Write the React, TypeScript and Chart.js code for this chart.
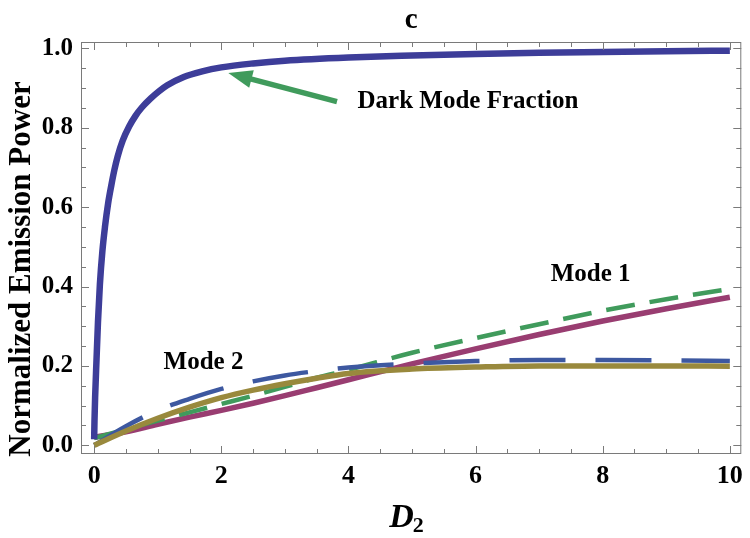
import React, { useEffect, useRef } from "react";
import { Chart, registerables } from "chart.js";

Chart.register(...registerables);

// ---------------- data ----------------
const xGrid = [0, 0.5, 1, 1.5, 2, 2.5, 3, 3.5, 4, 5, 6, 7, 8, 9, 10];

const darkX = [0, 0.005, 0.015, 0.037, 0.06, 0.09, 0.13, 0.17, 0.22, 0.27, 0.32, 0.37, 0.45, 0.55, 0.65, 0.75, 0.89, 1.02, 1.15, 1.41, 1.7, 2, 2.5, 3, 4, 5, 6, 7, 8, 9, 10];
const darkY = [0.015, 0.06, 0.12, 0.215, 0.31, 0.405, 0.49, 0.55, 0.61, 0.655, 0.695, 0.728, 0.768, 0.803, 0.83, 0.851, 0.874, 0.892, 0.907, 0.928, 0.942, 0.952, 0.962, 0.969, 0.977, 0.982, 0.986, 0.989, 0.991, 0.993, 0.994];

const mode1Y = [0.02, 0.034, 0.053, 0.071, 0.088, 0.106, 0.125, 0.145, 0.165, 0.205, 0.243, 0.279, 0.313, 0.344, 0.373];
const mode1DashY = [0.018, 0.04, 0.062, 0.083, 0.104, 0.125, 0.147, 0.17, 0.19, 0.233, 0.27, 0.305, 0.339, 0.368, 0.394];
const mode2DashY = [0, 0.048, 0.088, 0.117, 0.142, 0.161, 0.176, 0.187, 0.196, 0.206, 0.212, 0.215, 0.215, 0.214, 0.212];
const mode2Y = [0, 0.036, 0.068, 0.096, 0.12, 0.139, 0.155, 0.169, 0.181, 0.192, 0.197, 0.2, 0.2, 0.2, 0.199];

const xTickValues = [0, 2, 4, 6, 8, 10];
const yTickValues = [0, 0.2, 0.4, 0.6, 0.8, 1.0];
const xRange = [-0.207, 10.18];
const yRange = [-0.022, 1.016];

const titleText = "c";
const yTitle = "Normalized Emission Power";
const xTitleMain = "D";
const xTitleSub = "2";

const labels = [
  { text: "Dark Mode Fraction", x: 5.88, y: 0.866 },
  { text: "Mode 1", x: 7.81, y: 0.429 },
  { text: "Mode 2", x: 1.72, y: 0.208 },
];
const arrowFrom = { x: 3.82, y: 0.866 };
const arrowTo = { x: 2.11, y: 0.938 };

// ---------------- styles ----------------
const SERIF = '"Liberation Serif", "Times New Roman", serif';
const C_DARK = "rgb(61,61,153)";
const C_MODE1 = "rgb(153,61,113)";
const C_GREEN = "rgb(64,155,92)";
const C_BLUE = "rgb(61,88,160)";
const C_OLIVE = "rgb(153,137,61)";
const FRAME = "#7a7a7a";

const pts = (xs: number[], ys: number[]) => xs.map((x, i) => ({ x, y: ys[i] }));

const decorPlugin = {
  id: "decor",
  afterDatasetsDraw(chart: any) {
    const { ctx, chartArea, scales } = chart;
    const { left, right, top, bottom } = chartArea;
    const xs = scales.x;
    const ys = scales.y;
    ctx.save();
    // frame
    ctx.strokeStyle = FRAME;
    ctx.lineWidth = 1;
    ctx.strokeRect(left + 0.5, top + 0.5, right - left - 1, bottom - top - 1);
    // x ticks (inward, top and bottom)
    for (let i = 0; i <= 20; i++) {
      const v = i * 0.5;
      const major = i % 4 === 0;
      const len = major ? 8 : 5;
      const px = Math.round(xs.getPixelForValue(v)) + 0.5;
      ctx.beginPath();
      ctx.moveTo(px, bottom);
      ctx.lineTo(px, bottom - len);
      ctx.moveTo(px, top);
      ctx.lineTo(px, top + len);
      ctx.stroke();
    }
    // y ticks (inward, left and right)
    for (let i = 0; i <= 20; i++) {
      const v = i * 0.05;
      const major = i % 4 === 0;
      const len = major ? 8 : 5;
      const py = Math.round(ys.getPixelForValue(v)) + 0.5;
      ctx.beginPath();
      ctx.moveTo(left, py);
      ctx.lineTo(left + len, py);
      ctx.moveTo(right, py);
      ctx.lineTo(right - len, py);
      ctx.stroke();
    }

    // arrow
    const x0 = xs.getPixelForValue(arrowFrom.x);
    const y0 = ys.getPixelForValue(arrowFrom.y);
    const x1 = xs.getPixelForValue(arrowTo.x);
    const y1 = ys.getPixelForValue(arrowTo.y);
    const ang = Math.atan2(y1 - y0, x1 - x0);
    const headLen = 24;
    const headHalf = 9;
    const bx = x1 - headLen * Math.cos(ang);
    const by = y1 - headLen * Math.sin(ang);
    ctx.strokeStyle = C_GREEN;
    ctx.fillStyle = C_GREEN;
    ctx.lineWidth = 5.5;
    ctx.lineCap = "butt";
    ctx.beginPath();
    ctx.moveTo(x0, y0);
    ctx.lineTo(bx + 2 * Math.cos(ang), by + 2 * Math.sin(ang));
    ctx.stroke();
    ctx.beginPath();
    ctx.moveTo(x1, y1);
    ctx.lineTo(bx + headHalf * Math.sin(ang), by - headHalf * Math.cos(ang));
    ctx.lineTo(bx - headHalf * Math.sin(ang), by + headHalf * Math.cos(ang));
    ctx.closePath();
    ctx.fill();

    // annotations
    ctx.fillStyle = "#000";
    ctx.font = `bold 25px ${SERIF}`;
    ctx.textAlign = "center";
    ctx.textBaseline = "middle";
    for (const l of labels) {
      ctx.fillText(l.text, xs.getPixelForValue(l.x), ys.getPixelForValue(l.y));
    }

    // y axis title
    ctx.save();
    ctx.translate(22, (top + bottom) / 2 + 21);
    ctx.rotate(-Math.PI / 2);
    ctx.font = `bold 31px ${SERIF}`;
    ctx.textAlign = "center";
    ctx.textBaseline = "middle";
    ctx.fillText(yTitle, 0, 0);
    ctx.restore();

    // x axis title D_2
    const cx = (left + right) / 2;
    ctx.textAlign = "left";
    ctx.textBaseline = "alphabetic";
    ctx.font = `italic bold 34px ${SERIF}`;
    const dStart = cx - 22;
    ctx.fillText(xTitleMain, dStart, 527);
    const dW = ctx.measureText(xTitleMain).width;
    ctx.font = `bold 22px ${SERIF}`;
    ctx.fillText(xTitleSub, dStart + dW - 1, 532);

    ctx.restore();
  },
};

export default function App() {
  const ref = useRef<HTMLCanvasElement | null>(null);
  useEffect(() => {
    if (!ref.current) return;
    const common = {
      showLine: true,
      pointRadius: 0,
      pointHoverRadius: 0,
      fill: false,
      cubicInterpolationMode: "monotone" as const,
    };
    const chart = new Chart(ref.current, {
      type: "scatter",
      data: {
        datasets: [
          { ...common, label: "Dark Mode Fraction", data: pts(darkX, darkY), borderColor: C_DARK, borderWidth: 6.5 },
          { ...common, label: "Mode 2", data: pts(xGrid, mode2Y), borderColor: C_OLIVE, borderWidth: 5.5 },
          { ...common, label: "Mode 2 (dashed)", data: pts(xGrid, mode2DashY), borderColor: C_BLUE, borderWidth: 4.5, borderDash: [56, 30] },
          { ...common, label: "Mode 1 (dashed)", data: pts(xGrid, mode1DashY), borderColor: C_GREEN, borderWidth: 4.5, borderDash: [29, 15] },
          { ...common, label: "Mode 1", data: pts(xGrid, mode1Y), borderColor: C_MODE1, borderWidth: 5.5 },
        ],
      },
      options: {
        animation: false,
        responsive: false,
        maintainAspectRatio: false,
        layout: { padding: { left: 0, right: 2, top: 0, bottom: 0 } },
        plugins: {
          legend: { display: false },
          tooltip: { enabled: false },
          title: {
            display: true,
            text: titleText,
            fullSize: false,
            color: "#000",
            font: { family: SERIF, size: 29, weight: "bold", lineHeight: 1.2 },
            padding: { top: 3, bottom: 4.2 },
          },
        },
        scales: {
          x: {
            type: "linear",
            min: xRange[0],
            max: xRange[1],
            grid: { display: false, drawTicks: false },
            border: { display: false },
            afterFit: (s: any) => { s.height = 84; },
            afterBuildTicks: (s: any) => { s.ticks = xTickValues.map((v) => ({ value: v })); },
            ticks: {
              padding: 7,
              color: "#000",
              font: { family: SERIF, size: 26, weight: "bold" },
              maxRotation: 0,
              callback: (v: any) => String(v),
            },
          },
          y: {
            type: "linear",
            min: yRange[0],
            max: yRange[1],
            grid: { display: false, drawTicks: false },
            border: { display: false },
            afterFit: (s: any) => { s.width = 81; },
            afterBuildTicks: (s: any) => { s.ticks = yTickValues.map((v) => ({ value: v })); },
            ticks: {
              padding: 8,
              color: "#000",
              font: { family: SERIF, size: 25, weight: "bold" },
              callback: (v: any) => Number(v).toFixed(1),
            },
          },
        },
      },
      plugins: [decorPlugin],
    } as any);
    return () => chart.destroy();
  }, []);
  return (
    <div style={{ position: "absolute", left: 0, top: 0, width: 750, height: 538, background: "#fff" }}>
      <canvas ref={ref} width={750} height={538} style={{ display: "block" }} />
    </div>
  );
}
